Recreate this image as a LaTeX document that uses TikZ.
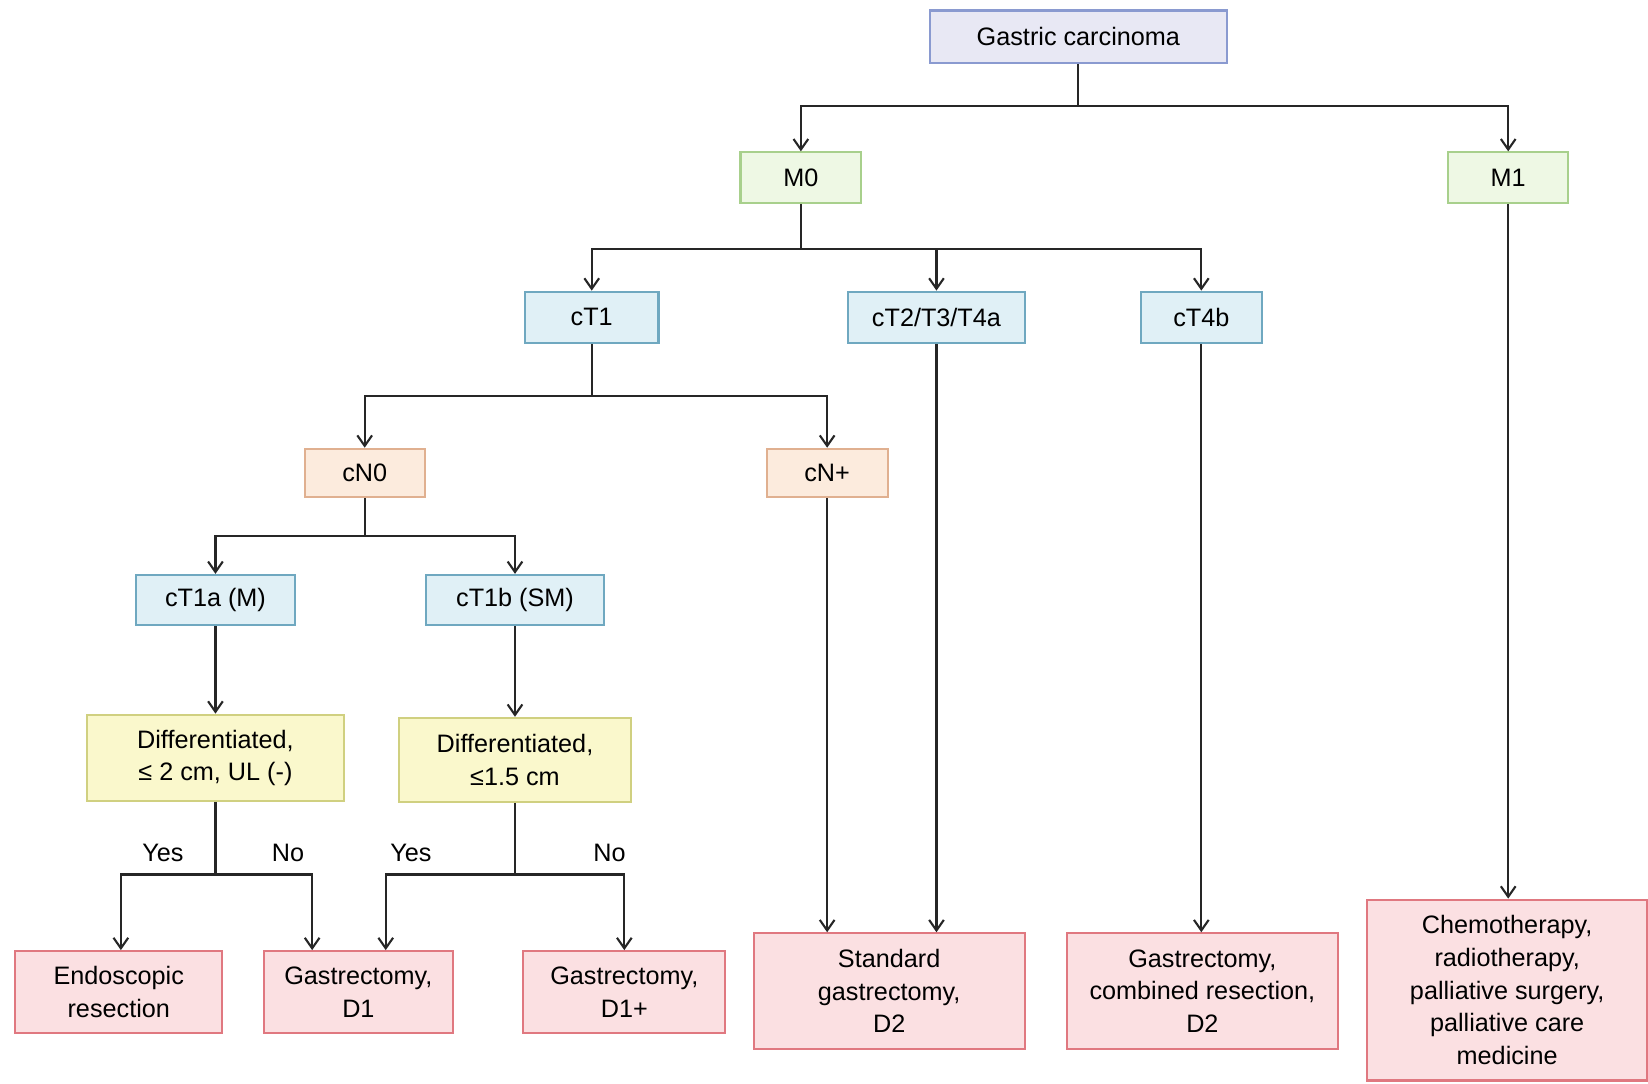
\documentclass[tikz,border=0pt]{standalone}
\usepackage{fontspec}
\setmainfont{Liberation Sans}
\usetikzlibrary{arrows.meta}
\definecolor{gcfill}{HTML}{E8E8F4}\definecolor{gcdraw}{HTML}{8A9AD0}
\definecolor{mfill}{HTML}{EEF8E4}\definecolor{mdraw}{HTML}{A8D08C}
\definecolor{tfill}{HTML}{E0F0F6}\definecolor{tdraw}{HTML}{6FA8C0}
\definecolor{nfill}{HTML}{FCEBDD}\definecolor{ndraw}{HTML}{E0B090}
\definecolor{yfill}{HTML}{FAF8CC}\definecolor{ydraw}{HTML}{D0D080}
\definecolor{rfill}{HTML}{FBE0E2}\definecolor{rdraw}{HTML}{E07880}
\begin{document}
\begin{tikzpicture}[x=0.5pt,y=-0.5pt,
  box/.style={draw,line width=1pt,inner sep=2pt,align=center,
    font=\fontsize{12}{15.5}\selectfont},
  gcbox/.style={box,fill=gcfill,draw=gcdraw},
  mbox/.style={box,fill=mfill,draw=mdraw},
  tbox/.style={box,fill=tfill,draw=tdraw},
  nbox/.style={box,fill=nfill,draw=ndraw},
  ybox/.style={box,fill=yfill,draw=ydraw},
  rbox/.style={box,fill=rfill,draw=rdraw},
  line/.style={draw=black!85,line width=1pt},
  arr/.style={line,-{Straight Barb[length=5pt,width=7pt]}},
  lab/.style={font=\fontsize{12}{14}\selectfont}]
\useasboundingbox (0,0) rectangle (1568,1031);
\fill[white] (0,0) rectangle (1568,1031);

\node[gcbox,minimum width=141.5pt,minimum height=25pt] (gc) at (1026,35) {Gastric carcinoma};
\node[mbox,minimum width=57.5pt,minimum height=24pt] (m0) at (762,169) {M0};
\node[mbox,minimum width=57pt,minimum height=24pt] (m1) at (1435,169) {M1};
\node[tbox,minimum width=63.5pt,minimum height=24.5pt] (ct1) at (563,302) {cT1};
\node[tbox,minimum width=84.5pt,minimum height=24.5pt] (ct2) at (891,302) {cT2/T3/T4a};
\node[tbox,minimum width=57.5pt,minimum height=24.5pt] (ct4b) at (1143,302) {cT4b};
\node[nbox,minimum width=57pt,minimum height=23pt] (cn0) at (347,450) {cN0};
\node[nbox,minimum width=57.5pt,minimum height=23pt] (cnp) at (787,450) {cN+};
\node[tbox,minimum width=75.5pt,minimum height=24pt] (ct1a) at (205,571) {cT1a (M)};
\node[tbox,minimum width=84.5pt,minimum height=24pt] (ct1b) at (490,571) {cT1b (SM)};
\node[ybox,minimum width=122pt,minimum height=41pt] (df1) at (205,721) {Differentiated,\\≤ 2 cm, UL (-)};
\node[ybox,minimum width=110pt,minimum height=40pt] (df2) at (490,723) {Differentiated,\\≤1.5 cm};
\node[rbox,minimum width=98.5pt,minimum height=39pt] (endo) at (113,944) {Endoscopic\\resection};
\node[rbox,minimum width=90pt,minimum height=39pt] (d1) at (341,944) {Gastrectomy,\\D1};
\node[rbox,minimum width=96pt,minimum height=39pt] (d1p) at (594,944) {Gastrectomy,\\D1+};
\node[rbox,minimum width=129pt,minimum height=55pt] (std) at (846,943) {Standard\\gastrectomy,\\D2};
\node[rbox,minimum width=129pt,minimum height=55pt] (comb) at (1144,943) {Gastrectomy,\\combined resection,\\D2};
\node[rbox,minimum width=133.5pt,minimum height=86pt] (chemo) at (1434,942) {Chemotherapy,\\radiotherapy,\\palliative surgery,\\palliative care\\medicine};

\coordinate (j1) at (1026,101);
\coordinate (j2) at (762,237);
\coordinate (j3) at (563,377);
\coordinate (j4) at (347,510);
\coordinate (j5) at (205,832);
\coordinate (j6) at (490,832);
\coordinate (d1l) at ([xshift=-22pt]d1.north);
\coordinate (d1r) at ([xshift=13pt]d1.north);

\draw[line] (gc.south) -- (j1);
\draw[arr] (j1) -| (m0.north);
\draw[arr] (j1) -| (m1.north);
\draw[line] (m0.south) -- (j2);
\draw[arr] (j2) -| (ct1.north);
\draw[arr] (j2) -| (ct2.north);
\draw[arr] (j2) -| (ct4b.north);
\draw[line] (ct1.south) -- (j3);
\draw[arr] (j3) -| (cn0.north);
\draw[arr] (j3) -| (cnp.north);
\draw[line] (cn0.south) -- (j4);
\draw[arr] (j4) -| (ct1a.north);
\draw[arr] (j4) -| (ct1b.north);
\draw[arr] (ct1a.south) -- (df1.north);
\draw[arr] (ct1b.south) -- (df2.north);
\draw[line] (df1.south) -- (j5);
\draw[arr] (j5) -| ([xshift=1pt]endo.north);
\draw[arr] (j5) -| (d1l);
\draw[line] (df2.south) -- (j6);
\draw[arr] (j6) -| (d1r);
\draw[arr] (j6) -| (d1p.north);
\draw[arr] (cnp.south) -- (cnp.south |- std.north);
\draw[arr] (ct2.south) -- (ct2.south |- std.north);
\draw[arr] (ct4b.south) -- (ct4b.south |- comb.north);
\draw[arr] (m1.south) -- (m1.south |- chemo.north);

\node[lab] (y1) at (155,812) {Yes};
\node[lab] (n1) at (274,812) {No};
\node[lab] (y2) at (391,812) {Yes};
\node[lab] (n2) at (580,812) {No};
\end{tikzpicture}
\end{document}
